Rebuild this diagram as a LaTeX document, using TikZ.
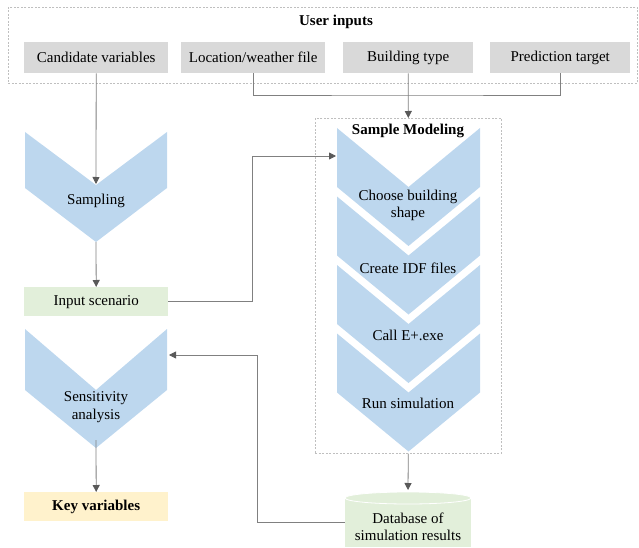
\documentclass[tikz,border=0pt]{standalone}
\usepackage{fontspec}
\setmainfont{Liberation Serif}
\usetikzlibrary{arrows.meta}
\definecolor{boxgray}{HTML}{D9D9D9}
\definecolor{chevblue}{HTML}{BDD7EE}
\definecolor{lightgreen}{HTML}{E2EFDA}
\definecolor{lightyellow}{HTML}{FFF2CC}
\definecolor{linegray}{HTML}{808080}
\definecolor{tipgray}{HTML}{595959}
\definecolor{dashgray}{HTML}{BFBFBF}
\begin{document}
\begin{tikzpicture}[x=1pt,y=-1pt,
  txt/.style={font=\fontsize{15}{17.5}\selectfont, align=center, inner sep=0pt},
  btxt/.style={txt, font=\fontsize{15}{17.5}\selectfont\bfseries},
  inbox/.style={txt, fill=boxgray, minimum width=144pt, minimum height=31pt, anchor=north west},
  grbox/.style={txt, fill=lightgreen, minimum width=144pt, minimum height=29pt, anchor=north west},
  yebox/.style={btxt, fill=lightyellow, minimum width=144pt, minimum height=29pt, anchor=north west},
  dashbox/.style={draw=dashgray, line width=0.6pt, dash pattern=on 2pt off 1.5pt, inner sep=0pt, anchor=north west},
  conn/.style={draw=linegray, line width=0.8pt},
  arr/.style={conn, -{Triangle[length=7pt,width=7pt,color=tipgray]}},
  chev/.style={fill=chevblue}
]
\useasboundingbox (0,0) rectangle (639,548);

% User inputs group
\node[dashbox, minimum width=629pt, minimum height=76pt] (ui) at (8,7) {};
\node[btxt] (uititle) at (336,22) {User inputs};
\node[inbox] (cand) at (24,42) {Candidate variables};
\node[inbox] (loc) at (181,42) {Location/weather file};
\node[inbox, minimum width=130pt] (bt) at (343,42) {Building type};
\node[inbox, minimum width=140pt] (pred) at (490,42) {Prediction target};

% Sampling chevron
\fill[chev] (25,132) -- (96,185) -- (167,132) -- (167,188) -- (96,242) -- (25,188) -- cycle;
\coordinate (samp-notch) at (96,184);
\coordinate (samp-tip) at (96,242);
\node[txt] (samp) at (96,201) {Sampling};

% Input scenario
\node[grbox] (inp) at (24,287) {Input scenario};

% Sensitivity chevron
\fill[chev] (25,329) -- (96,390) -- (167,329) -- (167,390) -- (96,448) -- (25,390) -- cycle;
\coordinate (sens-out) at (96,440);
\coordinate (sens-in) at (169,355);
\node[txt] (sens) at (96,407) {Sensitivity\\analysis};

% Key variables
\node[yebox] (key) at (24,492) {Key variables};

% Sample Modeling group
\node[dashbox, minimum width=186pt, minimum height=335pt] (sm) at (315,118) {};
\foreach \t in {128,196.5,265,333.5}{
  \fill[chev] (337,\t) -- (408.5,\t+59) -- (480,\t) -- (480,\t+59) -- (408.5,\t+118) -- (337,\t+59) -- cycle;
}
\node[btxt] (smtitle) at (408,131) {Sample Modeling};
\node[txt] (s1) at (408,205.5) {Choose building\\shape};
\node[txt] (s2) at (408,268) {Create IDF files};
\node[txt] (s3) at (408,335) {Call E+.exe};
\node[txt] (s4) at (408,403) {Run simulation};
\coordinate (sm-in) at (336,156);

% Database
\node[fill=lightgreen, minimum width=126pt, minimum height=49pt, inner sep=0pt, anchor=north] (db) at (408,498) {};
\draw[white, line width=0.8pt, fill=lightgreen] (408,498) ellipse [x radius=63, y radius=6];
\node[txt] (dbtxt) at (408,527) {Database of\\simulation results};
\coordinate (db-top) at (408,490);

% Connectors
\coordinate (junc) at (408,95);
\draw[conn] (loc.south) |- (junc) -| (pred.south);
\draw[arr] (bt.south) -- (sm.north);
\draw[arr] (cand.south) -- (samp-notch);
\draw[arr] (samp-tip) -- (inp.north);
\coordinate (bend1) at (252,156);
\draw[arr] (inp.east) -| (bend1) -- (sm-in);
\draw[arr] (sens-out) -- (key.north);
\draw[arr] (sm.south) -- (db-top);
\coordinate (bend2) at (257,355);
\draw[arr] (db.west) -| (bend2) -- (sens-in);
\end{tikzpicture}
\end{document}
